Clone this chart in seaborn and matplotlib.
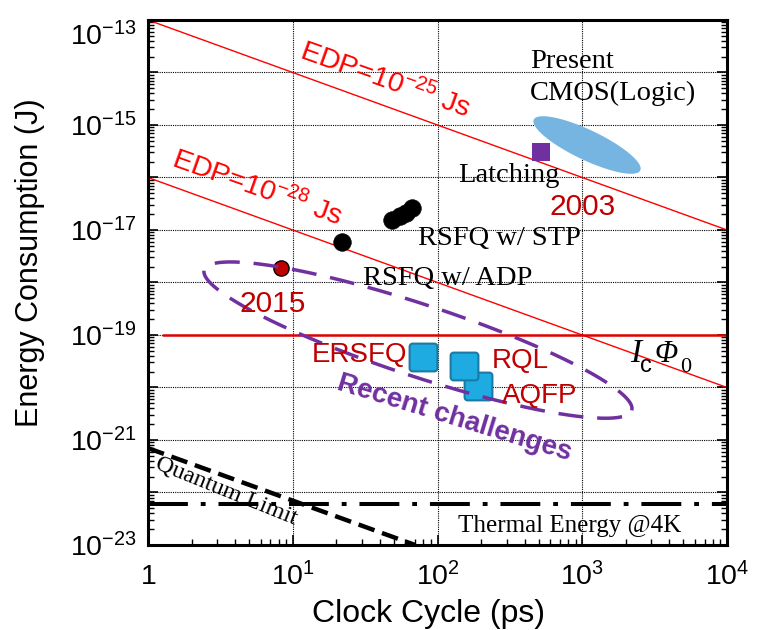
import numpy as np
import matplotlib
matplotlib.use('Agg')
import matplotlib.pyplot as plt
import seaborn as sns
from matplotlib.path import Path
from matplotlib.ticker import FixedLocator, FixedFormatter, LogLocator, NullFormatter
from matplotlib.transforms import ScaledTranslation

sns.set_style('ticks')
plt.rcParams['font.family'] = ['Liberation Sans', 'DejaVu Sans']
plt.rcParams['mathtext.fontset'] = 'custom'
plt.rcParams['mathtext.rm'] = 'Liberation Sans'
plt.rcParams['mathtext.it'] = 'Liberation Sans:italic'
plt.rcParams['mathtext.bf'] = 'Liberation Sans:bold'
plt.rcParams['text.color'] = 'black'
plt.rcParams['axes.labelcolor'] = 'black'
plt.rcParams['xtick.color'] = 'black'
plt.rcParams['ytick.color'] = 'black'

# ---------------- data ----------------
rsfq_x = [21.9, 48.5, 55.0, 60.6, 66.7]
rsfq_y = [5.9e-18, 1.55e-17, 1.86e-17, 2.1e-17, 2.6e-17]
adp_x = [8.3]
adp_y = [1.9e-18]
latch_x = [519]
latch_y = [3.1e-16]
recent_names = ['ERSFQ', 'AQFP', 'RQL']
recent_x = [79.4, 189.0, 152.0]
recent_y = [3.8e-20, 1.07e-20, 2.57e-20]
edp_x = [1, 1e4]
edp25_y = [1e-13, 1e-17]
edp28_y = [1e-16, 1e-20]
icphi_x = [1.27, 1e4]
icphi_y = [1e-19, 1e-19]
quantum_x = [1, 70]
quantum_y = [7e-22, 1e-23]
thermal_x = [1, 1e4]
thermal_y = [6e-23, 6e-23]
cmos_center = (1079, 4.16e-16)
recent_center = (73.3, 8.0e-20)
xtick_vals = [1, 10, 100, 1000, 10000]
xtick_labels = ['$1$', '$10^{1}$', '$10^{2}$', '$10^{3}$', '$10^{4}$']
ytick_vals = [10.0 ** e for e in range(-23, -12)]
ytick_labels = [('$10^{%d}$' % e) if e % 2 else '' for e in range(-23, -12)]

RED = '#C00000'
PURPLE = '#7030A0'

fig = plt.figure(figsize=(7.57, 6.3), dpi=100)
ax = fig.add_axes([148 / 757, 1 - 545 / 630, (727 - 148) / 757, (545 - 20) / 630])
ax.set_xscale('log')
ax.set_yscale('log')
ax.set_xlim(1, 1e4)
ax.set_ylim(1e-23, 1e-13)


def ellipse_xy(center, a_px, b_px, angle_deg, n=300):
    cx, cy = ax.transData.transform(center)
    t = np.linspace(0, 2 * np.pi, n)
    th = np.deg2rad(angle_deg)
    u = a_px * np.cos(t)
    v = b_px * np.sin(t)
    X = cx + u * np.cos(th) - v * np.sin(th)
    Y = cy + u * np.sin(th) + v * np.cos(th)
    pts = ax.transData.inverted().transform(np.column_stack([X, Y]))
    return pts[:, 0], pts[:, 1]


# grid
ax.grid(True, which='major', color='black', lw=0.8, ls=(0, (1, 1)))
ax.set_axisbelow(True)

# reference lines
ax.plot(edp_x, edp25_y, color='#FF0000', lw=1.0, zorder=2)
ax.plot(edp_x, edp28_y, color='#FF0000', lw=1.0, zorder=2)
ax.plot(icphi_x, icphi_y, color='#E00000', lw=1.8, zorder=2)
lq, = ax.plot(quantum_x, quantum_y, color='black', lw=3.2, zorder=3, solid_capstyle='butt')
lq.set_dashes([3.8, 1.8])
lt, = ax.plot(thermal_x, thermal_y, color='black', lw=2.9, zorder=3)
lt.set_dashes([9.9, 3.2, 1.2, 3.2])

# CMOS ellipse
ex, ey = ellipse_xy(cmos_center, 59, 15, -25.5)
ax.fill(ex, ey, color='#76B5E2', lw=0, zorder=3)

# points
sns.scatterplot(x=rsfq_x, y=rsfq_y, ax=ax, color='black', s=160, edgecolor='black',
                linewidth=0.5, zorder=4, legend=False)
sns.scatterplot(x=adp_x, y=adp_y, ax=ax, color=RED, s=120, edgecolor='black',
                linewidth=1.0, zorder=4, legend=False)
sns.scatterplot(x=latch_x, y=latch_y, ax=ax, color=PURPLE, marker='s', s=170,
                edgecolor='none', linewidth=0, zorder=4, legend=False)

# rounded square marker
r = 0.22
corners = [(1 - r, 1 - r, 0), (-1 + r, 1 - r, 90), (-1 + r, -1 + r, 180), (1 - r, -1 + r, 270)]
verts = []
for cx0, cy0, a0 in corners:
    ang = np.deg2rad(np.linspace(a0, a0 + 90, 8))
    verts += list(zip(cx0 + r * np.cos(ang), cy0 + r * np.sin(ang)))
verts.append(verts[0])
rsq = Path(verts, closed=True)
for nx, ny in zip(recent_x, recent_y):
    sns.scatterplot(x=[nx], y=[ny], ax=ax, color='#1DABE1', marker=rsq, s=400,
                    edgecolor='#1B7AA4', linewidth=1.5, zorder=5, legend=False)

# recent challenges dashed ellipse
rx, ry = ellipse_xy(recent_center, 225, 36, -18.2)
le, = ax.plot(rx, ry, color=PURPLE, lw=2.5, zorder=6)
le.set_dashes([7.2, 4.0])

# ---------------- texts ----------------
serif = ['Liberation Serif', 'DejaVu Serif']
ax.text(435, 1.22e-14, 'Present', family=serif, fontsize=20.5, ha='left', va='baseline', zorder=7)
ax.text(435, 2.99e-15, 'CMOS(Logic)', family=serif, fontsize=20.5, ha='left', va='baseline', zorder=7)
ax.text(138.6, 8.2e-17, 'Latching', family=serif, fontsize=20.5, ha='left', va='baseline', zorder=7)
ax.text(598, 1.93e-17, '2003', color=RED, fontsize=21.5, ha='left', va='baseline', zorder=7)
ax.text(73.3, 5.2e-18, 'RSFQ w/ STP', family=serif, fontsize=20.5, ha='left', va='baseline', zorder=7)
ax.text(30.6, 8.95e-19, 'RSFQ w/ ADP', family=serif, fontsize=20.5, ha='left', va='baseline', zorder=3)
ax.text(4.32, 2.74e-19, '2015', color=RED, fontsize=21.5, ha='left', va='baseline', zorder=7)
ax.text(13.6, 3.06e-20, 'ERSFQ', color=RED, fontsize=20, ha='left', va='baseline', zorder=7)
ax.text(238, 2.35e-20, 'RQL', color=RED, fontsize=20, ha='left', va='baseline', zorder=7)
ax.text(279, 5.07e-21, 'AQFP', color=RED, fontsize=20, ha='left', va='baseline', zorder=7)
ax.text(138.6, 1.77e-23, 'Thermal Energy @4K', family=serif, fontsize=18, ha='left',
        va='baseline', zorder=7)

# I_c Phi_0 label built from pieces
ic_anchor = (2138, 3.06e-20)
for s_, dx, dy, fam, sty, fs in [('I', 0, 0, serif, 'italic', 24),
                                 ('c', 10, -10, ['Liberation Sans'], 'normal', 17),
                                 ('\u03A6', 24, 0, serif, 'italic', 22),
                                 ('0', 50, -10, serif, 'normal', 16)]:
    ax.annotate(s_, xy=ic_anchor, xytext=(dx, dy), textcoords='offset pixels',
                family=fam, style=sty, fontsize=fs, ha='left', va='baseline', zorder=7)

ax.text(43.4, 7.2e-15, 'EDP=10$^{-25}$ Js', color='#FF0000', fontsize=20.5, rotation=-19.5,
        rotation_mode='anchor', ha='center', va='center', zorder=7)
ax.text(5.66, 6.3e-17, 'EDP=10$^{-28}$ Js', color='#FF0000', fontsize=20.5, rotation=-19.5,
        rotation_mode='anchor', ha='center', va='center', zorder=7)
ax.text(130, 2.62e-21, 'Recent challenges', color=PURPLE, fontsize=20, fontweight='bold',
        rotation=-17, rotation_mode='anchor', ha='center', va='center', zorder=7)
ax.text(3.46, 1.07e-22, 'Quantum Limit', family=serif, fontsize=17.5, rotation=-22,
        rotation_mode='anchor', ha='center', va='center', zorder=7)

# ---------------- axes styling ----------------
ax.xaxis.set_major_locator(FixedLocator(xtick_vals))
ax.xaxis.set_major_formatter(FixedFormatter(xtick_labels))
ax.xaxis.set_minor_locator(LogLocator(base=10, subs=np.arange(2, 10) * 1.0, numticks=100))
ax.xaxis.set_minor_formatter(NullFormatter())
ax.yaxis.set_major_locator(FixedLocator(ytick_vals))
ax.yaxis.set_major_formatter(FixedFormatter(ytick_labels))
ax.yaxis.set_minor_locator(LogLocator(base=10, subs=np.arange(2, 10) * 1.0, numticks=100))
ax.yaxis.set_minor_formatter(NullFormatter())
ax.tick_params(axis='both', which='both', direction='in', colors='black', labelsize=20.5)
ax.tick_params(axis='x', which='both', bottom=True, top=False)
ax.tick_params(axis='y', which='both', left=True, right=True)
ax.tick_params(which='major', length=7, width=1.2)
ax.tick_params(which='minor', length=4, width=1.0)
ax.tick_params(axis='x', pad=12)
ax.tick_params(axis='y', pad=8)
for sp in ax.spines.values():
    sp.set_linewidth(2.2)
    sp.set_color('black')
    sp.set_visible(True)

xl = ax.get_xticklabels()
xl[0].set_transform(xl[0].get_transform() + ScaledTranslation(0, -1.5 / 72, fig.dpi_scale_trans))
yl = ax.get_yticklabels()
yl[-1].set_transform(yl[-1].get_transform() + ScaledTranslation(0, -10 / 72, fig.dpi_scale_trans))

fig.text(429 / 757, 1 - 622 / 630, 'Clock Cycle (ps)', fontsize=23, ha='center', va='baseline')
fig.text(30 / 757, 1 - 263 / 630, 'Energy Consumption (J)', fontsize=22, ha='center',
         va='center', rotation=90)

fig.savefig('out.png', dpi=100)
